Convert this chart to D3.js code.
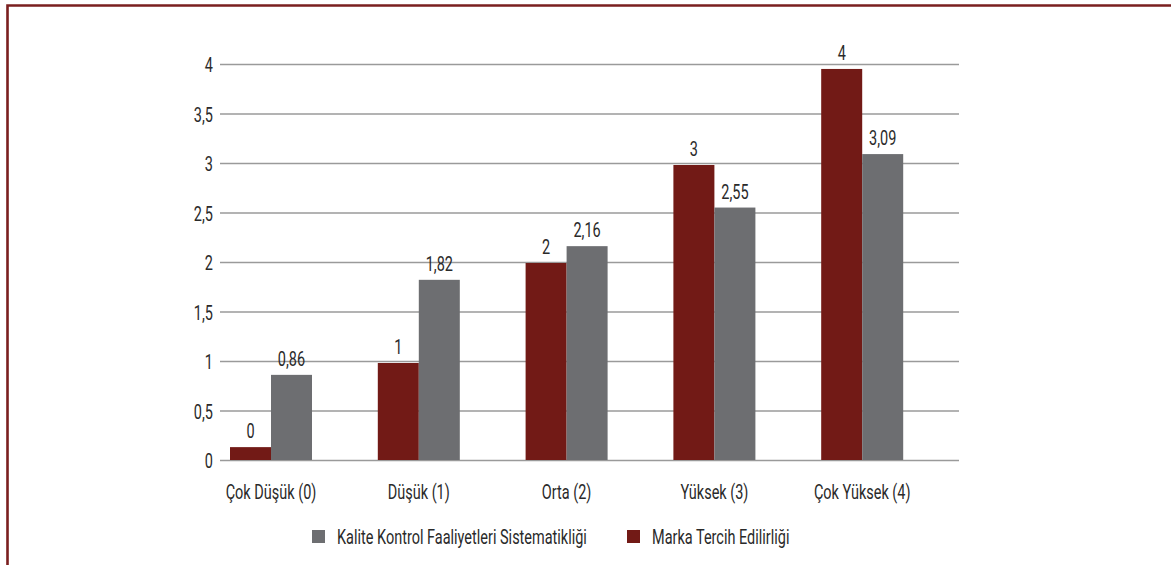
<!DOCTYPE html>
<html lang="tr">
<head>
<meta charset="utf-8">
<script src="https://cdn.jsdelivr.net/npm/d3@7"></script>
<style>
  html, body { margin: 0; padding: 0; background: #fff; }
  svg { display: block; }
  text { font-family: Roboto, "Liberation Sans", sans-serif; fill: #2a2a2a; font-size: 21px; }
</style>
</head>
<body>
<svg id="chart" width="1171" height="565"></svg>
<script>
// Categories and the two series shown in the grouped bar chart
const categories = ["Çok Düşük (0)", "Düşük (1)", "Orta (2)", "Yüksek (3)", "Çok Yüksek (4)"];
const seriesNames = ["Marka Tercih Edilirliği", "Kalite Kontrol Faaliyetleri Sistematikliği"];
const markaValues = [0.13, 0.98, 1.99, 2.98, 3.95];
const kaliteValues = [0.86, 1.82, 2.16, 2.55, 3.09];
const yTicks = [0, 0.5, 1, 1.5, 2, 2.5, 3, 3.5, 4];
// Legend order as printed under the chart
const legendOrder = ["Kalite Kontrol Faaliyetleri Sistematikliği", "Marka Tercih Edilirliği"];

const colors = {
  "Marka Tercih Edilirliği": "#721a16",
  "Kalite Kontrol Faaliyetleri Sistematikliği": "#6d6e71"
};
const labelFormats = {
  "Marka Tercih Edilirliği": ".0f",
  "Kalite Kontrol Faaliyetleri Sistematikliği": ".2f"
};

const tr = d3.formatLocale({ decimal: ",", thousands: ".", grouping: [3], currency: ["", " ₺"] });

// Condensed lettering: text is squeezed horizontally around its anchor point
const squeeze = 0.69;
function place(sel, fx, fy) {
  sel.attr("x", 0).attr("y", 0)
    .attr("transform", (d, i) => `translate(${fx(d, i)},${fy(d, i)}) scale(${squeeze},1)`);
}

const rows = categories.map((c, i) => ({
  category: c,
  values: [
    { key: seriesNames[0], value: markaValues[i] },
    { key: seriesNames[1], value: kaliteValues[i] }
  ]
}));

const svg = d3.select("#chart");

// Frame: dark red rule along the top and left edges
svg.append("path")
  .attr("d", "M7.5,565 V5.5 H1171")
  .attr("fill", "none")
  .attr("stroke", "#7a1f1f")
  .attr("stroke-width", 2.6);

const plot = { left: 220, right: 959, top: 64, bottom: 460 };

const x0 = d3.scaleBand()
  .domain(categories)
  .range([plot.left, plot.right])
  .paddingInner(0)
  .paddingOuter(0);

// Each group of bars sits near the left of its band
const groupOffset = 10;
const barWidth = 41;
const x1 = d3.scaleBand()
  .domain(seriesNames)
  .range([groupOffset, groupOffset + barWidth * seriesNames.length])
  .padding(0);

const y = d3.scaleLinear()
  .domain([0, 4])
  .range([plot.bottom, plot.top]);

// Horizontal gridlines with tick labels
const yAxis = d3.axisLeft(y)
  .tickValues(yTicks)
  .tickSize(-(plot.right - plot.left))
  .tickPadding(7)
  .tickFormat(d => tr.format("~g")(d));

const gy = svg.append("g")
  .attr("transform", `translate(${plot.left},0)`)
  .call(yAxis);
gy.select(".domain").remove();
gy.selectAll(".tick line")
  .attr("stroke", "#9a9a9a")
  .attr("stroke-width", 1.4);
gy.selectAll(".tick text")
  .attr("font-size", null)
  .attr("font-family", null)
  .attr("fill", "#2a2a2a")
  .attr("dy", "0.36em")
  .call(place, () => -7, () => 0);

// Bars
const groups = svg.append("g")
  .selectAll("g")
  .data(rows)
  .join("g")
  .attr("transform", d => `translate(${x0(d.category)},0)`);

groups.selectAll("rect")
  .data(d => d.values)
  .join("rect")
  .attr("x", d => x1(d.key))
  .attr("width", x1.bandwidth())
  .attr("y", d => y(d.value))
  .attr("height", d => y(0) - y(d.value))
  .attr("fill", d => colors[d.key]);

// Value labels above the bars
groups.selectAll("text.value")
  .data(d => d.values)
  .join("text")
  .attr("class", "value")
  .attr("text-anchor", "middle")
  .text(d => tr.format(labelFormats[d.key])(d.value))
  .call(place, d => x1(d.key) + x1.bandwidth() / 2, d => y(d.value) - 9);

// Category labels centred under each bar group
const groupCenter = (x1.range()[0] + x1.range()[1]) / 2;
svg.append("g")
  .selectAll("text")
  .data(categories)
  .join("text")
  .attr("text-anchor", "middle")
  .text(d => d)
  .call(place, d => x0(d) + groupCenter, () => 499);

// Legend
const legend = svg.append("g").attr("transform", "translate(312,530)");
const legendX = { "Kalite Kontrol Faaliyetleri Sistematikliği": 0, "Marka Tercih Edilirliği": 315 };
const items = legend.selectAll("g")
  .data(legendOrder)
  .join("g")
  .attr("transform", d => `translate(${legendX[d]},0)`);
items.append("rect")
  .attr("width", 13)
  .attr("height", 13)
  .attr("fill", d => colors[d]);
items.append("text")
  .text(d => d)
  .call(place, () => 25, () => 13.5);
</script>
</body>
</html>
